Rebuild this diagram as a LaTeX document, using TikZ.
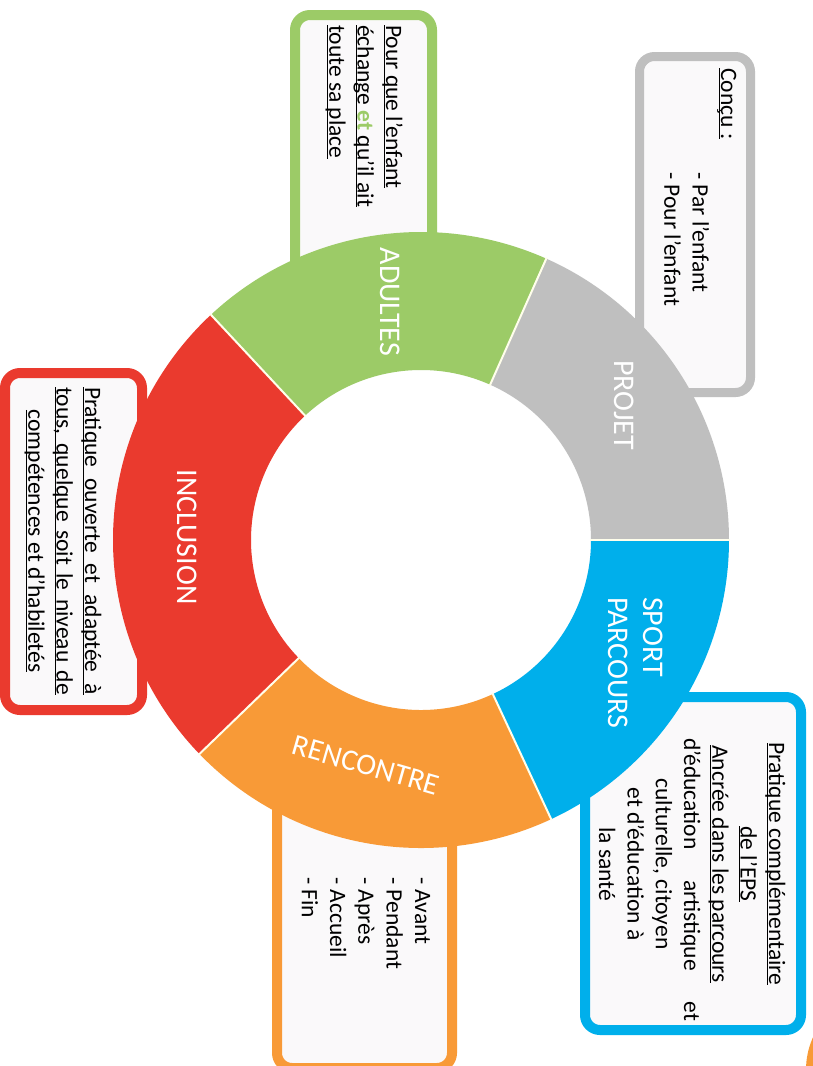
\documentclass[tikz,border=0pt]{standalone}
\usepackage{fontspec}
\setmainfont{Carlito}
\definecolor{cgray}{HTML}{BFBFBF}
\definecolor{cgreen}{HTML}{9CCB67}
\definecolor{cred}{HTML}{EA3A2E}
\definecolor{cblue}{HTML}{00AFEB}
\definecolor{corange}{HTML}{F89A37}
\definecolor{boxfill}{HTML}{FAF9FA}
\newcommand\myul[1]{\leavevmode\setbox0=\hbox{#1}\rlap{\rule[-2.2pt]{\wd0}{1.1pt}}\box0}
\newcommand\ringsector[3]{\fill[#1] (#2:308) arc[start angle=#2,end angle=#3,radius=308] -- (#3:170) arc[start angle=#3,end angle=#2,radius=170] -- cycle;}
\tikzset{
  boxtxt/.style={rotate=-90, inner sep=0pt, font=\fontsize{23.5}{28.3}\selectfont, text=black},
  ringlbl/.style={rotate=-90, inner sep=0pt, font=\fontsize{30}{35}\selectfont, text=white},
  infobox/.style={line width=10pt, rounded corners=15pt, fill=boxfill},
  sep/.style={white!92!yellow, line width=2pt},
}
\begin{document}
\begin{tikzpicture}[x=1pt,y=1pt]
\useasboundingbox (0,0) rectangle (813,-1066);
\clip (0,0) rectangle (813,-1066);
\fill[white] (0,0) rectangle (813,-1066);
% boxes
\draw[infobox, draw=cgray, line width=9pt] (639.5,-56.5) rectangle (750.5,-392.5);
\draw[infobox, draw=cgreen] (295,-15) rectangle (432,-330);
\draw[infobox, draw=cred] (5,-373) rectangle (142,-710);
\draw[infobox, draw=cblue] (585,-697) rectangle (801,-1030);
\draw[infobox, draw=corange] (277,-760) rectangle (452,-1068);
\fill[corange] (886,-1070) circle[radius=80];
% ring
\begin{scope}[shift={(421,-540)}]
\ringsector{cblue}{-65}{0}
\ringsector{cgray}{0}{66}
\ringsector{cgreen}{66}{133}
\ringsector{cred}{133}{224}
\ringsector{corange}{224}{295}
\foreach \a in {0,66,133,224,295} \draw[sep] (\a:169) -- (\a:309);
\end{scope}
% ring labels
\node[ringlbl, anchor=base] (adl) at (380,-302) {ADULTES};
\node[ringlbl, anchor=base] (prl) at (614,-405) {PROJET};
\node[ringlbl, anchor=base] (inl) at (177,-537) {INCLUSION};
\node[ringlbl, anchor=base west] (spl) at (643,-597) {\begin{tabular}[t]{@{}l@{}}SPORT\\PARCOURS\end{tabular}};
\node[text=white, font=\fontsize{30}{35}\selectfont, rotate=-16, inner sep=0pt] (rcl) at (366,-765) {RENCONTRE};
% box texts
\node[boxtxt, anchor=base west] (concu) at (721,-68) {\begin{tabular}[t]{@{}l@{}}\myul{Conçu :}\\\hspace*{104pt}- Par l’enfant\\\hspace*{104pt}- Pour l’enfant\end{tabular}};
\node[boxtxt, anchor=base west] (adtxt) at (386,-25) {\begin{tabular}[t]{@{}l@{}}\myul{Pour que l’enfant}\\\myul{échange {\color{cgreen}\bfseries et} qu’il ait}\\\myul{toute sa place}\end{tabular}};
\node[boxtxt, anchor=base] (inctxt) at (85,-541) {\begin{tabular}[t]{@{}c@{}}\myul{\makebox[308pt][s]{Pratique ouverte et adaptée à}}\\\myul{\makebox[308pt][s]{tous, quelque soit le niveau de}}\\\myul{compétences et d'habiletés}\end{tabular}};
\node[boxtxt, anchor=base] (sptxt) at (769,-864) {\begin{tabular}[t]{@{}c@{}}\myul{Pratique complémentaire}\\\myul{de l’EPS}\\\myul{Ancrée dans les parcours}\\\hspace*{31pt}\makebox[283pt][s]{d’éducation artistique et}\\culturelle, citoyen\\et d'éducation à\\la santé\end{tabular}};
\node[boxtxt, anchor=base west] (rctxt) at (415,-877) {\begin{tabular}[t]{@{}l@{}}- Avant\\- Pendant\\- Après\\- Accueil\\- Fin\end{tabular}};
\end{tikzpicture}
\end{document}
